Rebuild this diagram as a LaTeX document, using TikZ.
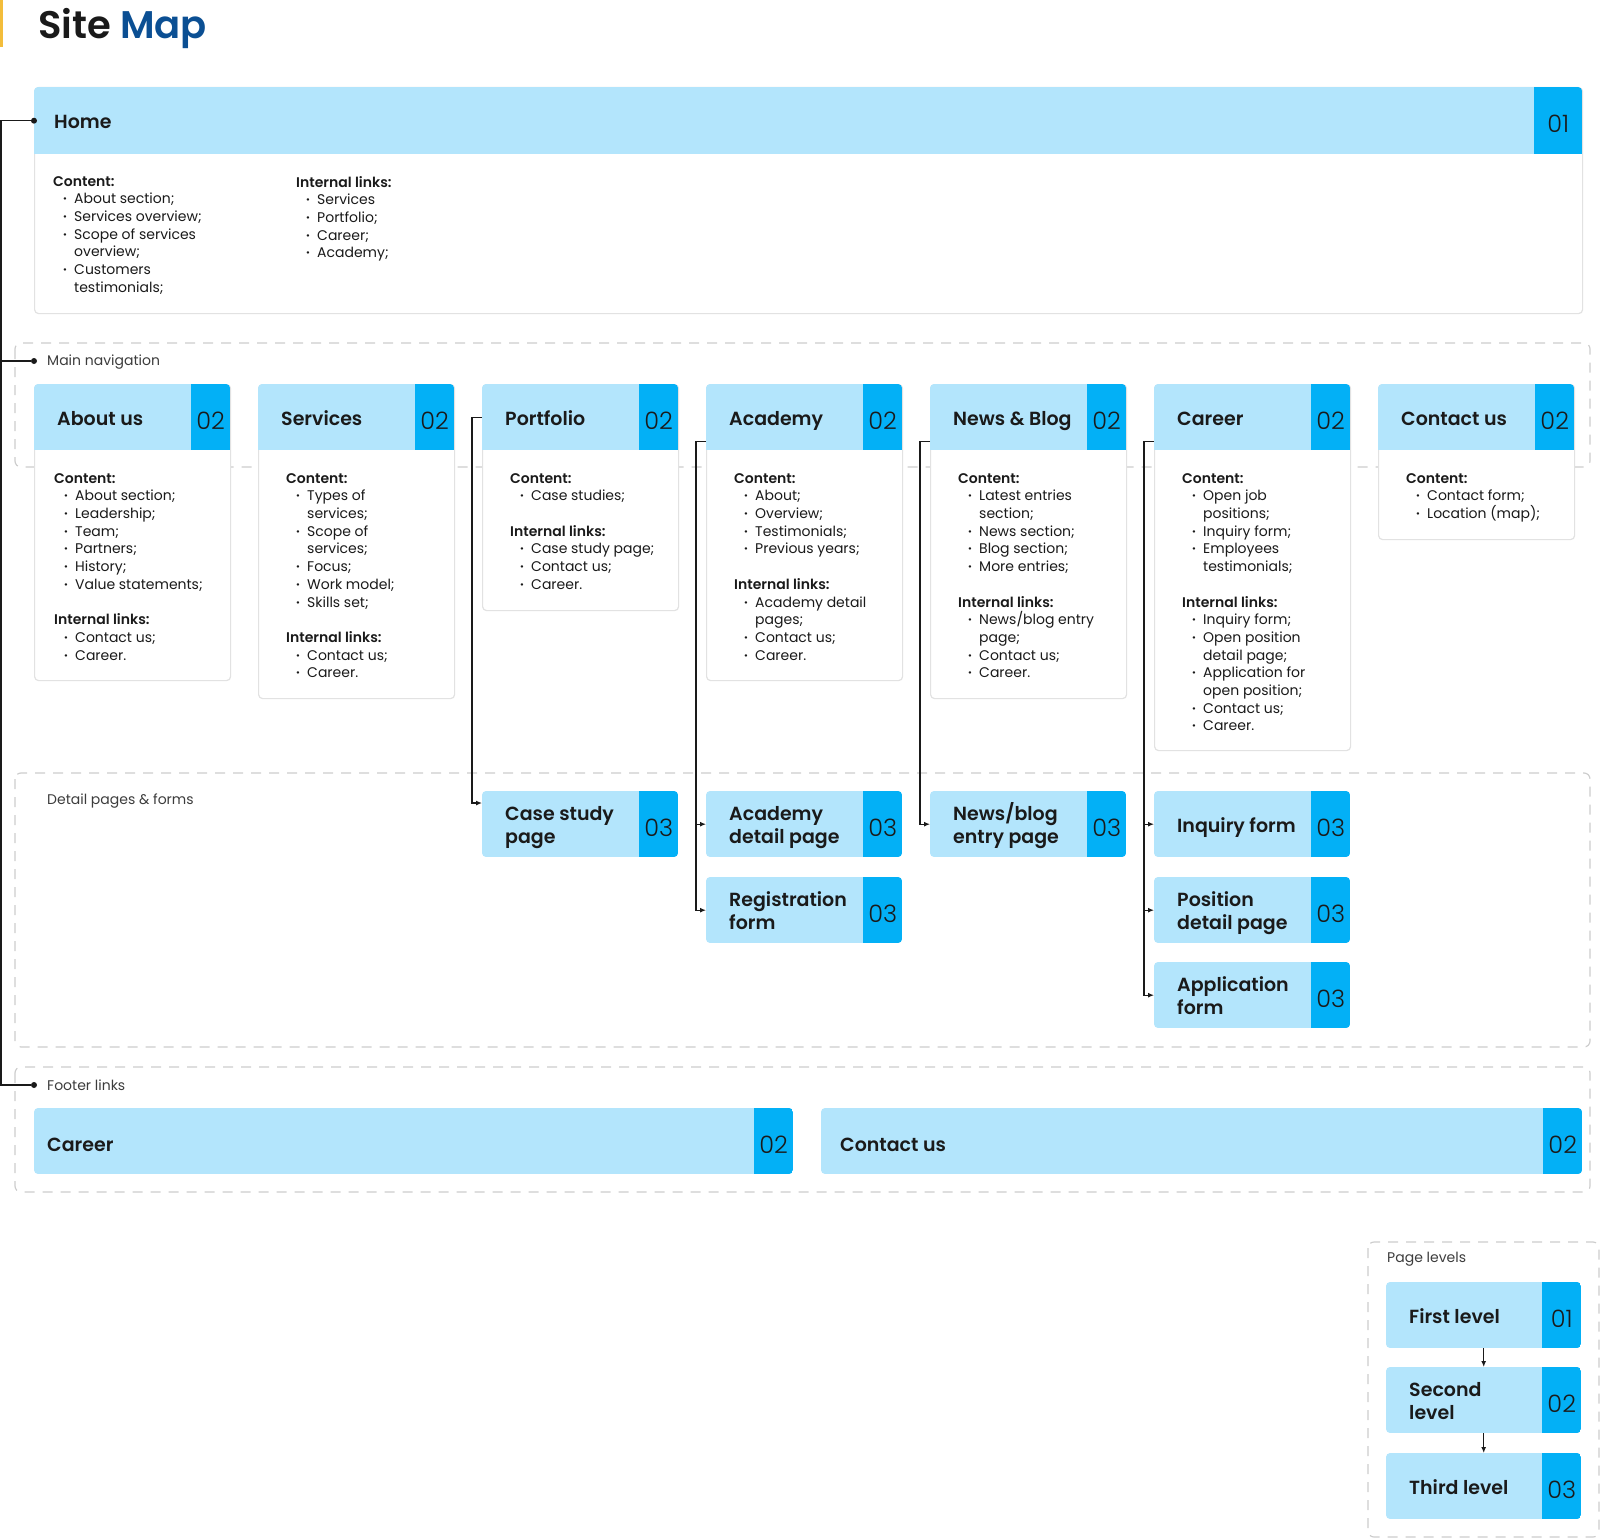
\documentclass[tikz,border=0pt]{standalone}
\usepackage{fontspec}
\setmainfont{Poppins}[BoldFont={* SemiBold}]
\newfontfamily\numfont{Poppins Light}
\usetikzlibrary{arrows.meta,positioning}
\tikzset{>={Latex[length=6pt,width=5pt]}}

\definecolor{paleblue}{HTML}{B3E5FC}
\definecolor{numblue}{HTML}{03B0F6}
\definecolor{mapblue}{HTML}{0B4F93}
\definecolor{tagyellow}{HTML}{F3BD3B}
\definecolor{cardgrey}{HTML}{E2E2E2}
\definecolor{dashgrey}{HTML}{CDCDCD}
\definecolor{ink}{HTML}{1A1A1A}

\tikzset{
  headbox/.style={fill=paleblue, minimum height=66pt, inner sep=0pt, anchor=north west},
  numbox/.style={fill=numblue, minimum height=66pt, minimum width=39pt, inner sep=0pt,
    anchor=north east, font=\numfont\fontsize{24}{24}\selectfont, text=ink},
  headlabel/.style={anchor=base west, align=left, inner sep=0pt, text=ink,
    font=\bfseries\fontsize{19}{23.5}\selectfont},
  cardbody/.style={draw=cardgrey, line width=1.2pt, fill=white, rounded corners=4pt,
    anchor=north west, inner sep=0pt},
  bodytext/.style={anchor=north west, align=left, inner sep=0pt, text=ink,
    font=\fontsize{14}{17.7}\selectfont},
  section/.style={draw=dashgrey, line width=1.2pt, dash pattern=on 10pt off 8pt,
    rounded corners=6pt},
  sectionlabel/.style={anchor=west, inner sep=0pt, text=ink!85,
    font=\fontsize{14}{17}\selectfont},
  dot/.style={circle, fill=ink, inner sep=0pt, minimum size=6pt},
  trunk/.style={draw=ink, line width=1.3pt},
  link/.style={draw=ink, line width=1.2pt},
}

% list helpers
\newcommand{\itm}[1]{\hspace*{10pt}\makebox[11pt][l]{\bfseries ·}#1}
\newcommand{\cnt}[1]{\hspace*{21pt}#1}
\newcommand{\hd}[1]{{\bfseries #1}}
\newcommand{\num}[1]{\raisebox{-12pt}[0pt][0pt]{#1}}

% level 2 card: [text offset], name, left x, bottom y, title, body
\newcommand{\navcard}[6][28]{%
  \node[cardbody, minimum width=196pt, minimum height={#4pt-384pt}] (#2-b) at (#3,384) {};
  \begin{scope}
    \clip[rounded corners=4pt] (#3,384) rectangle ++(196,76);
    \node[headbox, minimum width=196pt] (#2) at (#3,384) {};
    \node[numbox] (#2-n) at (#2.north east) {\num{02}};
  \end{scope}
  \node[headlabel] (#2-l) at ([xshift=23pt,yshift=-8pt]#2.west) {#5};
  \node[bodytext] (#2-t) at (#3+#1,473) {#6};
}

% plain page box: [label offset], name, x, y, width, number, baseline shift, label
\newcommand{\pagebox}[8][23]{%
  \begin{scope}
    \clip[rounded corners=4pt] (#3,#4) rectangle ++(#5,66);
    \node[headbox, minimum width=#5pt] (#2) at (#3,#4) {};
    \node[numbox] (#2-n) at (#2.north east) {\num{#6}};
  \end{scope}
  \node[headlabel] (#2-l) at ([xshift=#1pt,yshift=#7pt]#2.west) {#8};
}

\begin{document}
\begin{tikzpicture}[x=1pt, y=-1pt]
\useasboundingbox (0,0) rectangle (1600,1538);

% title
\fill[tagyellow] (0,0) rectangle (3,47);
\node[anchor=base west, inner sep=0pt, text=ink, font=\bfseries\fontsize{38.5}{40}\selectfont]
  (title) at (38,39) {Site \textcolor{mapblue}{Map}};

% sections
\draw[section] (15,343) rectangle (1590,467);
\draw[section] (15,773) rectangle (1590,1047);
\draw[section] (15,1067) rectangle (1590,1192);
\draw[section] (1368,1242) rectangle (1599,1537);
\node[sectionlabel] (navlabel) at (47,362) {Main navigation};
\node[sectionlabel] (detlabel) at (47,801) {Detail pages \& forms};
\node[sectionlabel] (footlabel) at (47,1085) {Footer links};
\node[sectionlabel] (lvllabel) at (1387,1259) {Page levels};

% home
\node[cardbody, minimum width=1548pt, minimum height=226pt] (home-b) at (34,87) {};
\begin{scope}
  \clip[rounded corners=4pt] (34,87) rectangle ++(1548,77);
  \node[headbox, minimum width=1548pt, minimum height=67pt] (home) at (34,87) {};
  \node[numbox, minimum width=48pt, minimum height=67pt] (home-n) at (home.north east) {\num{01}};
\end{scope}
\node[headlabel] (home-l) at ([xshift=20pt,yshift=-8pt]home.west) {Home};
\node[bodytext] (home-t1) at (53,176) {\hd{Content:}\\
  \itm{About section;}\\
  \itm{Services overview;}\\
  \itm{Scope of services}\\
  \cnt{overview;}\\
  \itm{Customers}\\
  \cnt{testimonials;}};
\node[bodytext] (home-t2) at (296,176) {\hd{Internal links:}\\
  \itm{Services}\\
  \itm{Portfolio;}\\
  \itm{Career;}\\
  \itm{Academy;}};

% level 2
\navcard[20]{about}{34}{680}{About us}{\hd{Content:}\\
  \itm{About section;}\\ \itm{Leadership;}\\ \itm{Team;}\\ \itm{Partners;}\\
  \itm{History;}\\ \itm{Value statements;}\\[17.7pt]
  \hd{Internal links:}\\ \itm{Contact us;}\\ \itm{Career.}}
\navcard{services}{258}{698}{Services}{\hd{Content:}\\
  \itm{Types of}\\ \cnt{services;}\\ \itm{Scope of}\\ \cnt{services;}\\
  \itm{Focus;}\\ \itm{Work model;}\\ \itm{Skills set;}\\[17.7pt]
  \hd{Internal links:}\\ \itm{Contact us;}\\ \itm{Career.}}
\navcard{portfolio}{482}{610}{Portfolio}{\hd{Content:}\\
  \itm{Case studies;}\\[17.7pt]
  \hd{Internal links:}\\ \itm{Case study page;}\\ \itm{Contact us;}\\ \itm{Career.}}
\navcard{academy}{706}{680}{Academy}{\hd{Content:}\\
  \itm{About;}\\ \itm{Overview;}\\ \itm{Testimonials;}\\ \itm{Previous years;}\\[17.7pt]
  \hd{Internal links:}\\ \itm{Academy detail}\\ \cnt{pages;}\\ \itm{Contact us;}\\ \itm{Career.}}
\navcard{news}{930}{698}{News \& Blog}{\hd{Content:}\\
  \itm{Latest entries}\\ \cnt{section;}\\ \itm{News section;}\\ \itm{Blog section;}\\
  \itm{More entries;}\\[17.7pt]
  \hd{Internal links:}\\ \itm{News/blog entry}\\ \cnt{page;}\\ \itm{Contact us;}\\ \itm{Career.}}
\navcard{career}{1154}{750}{Career}{\hd{Content:}\\
  \itm{Open job}\\ \cnt{positions;}\\ \itm{Inquiry form;}\\ \itm{Employees}\\
  \cnt{testimonials;}\\[17.7pt]
  \hd{Internal links:}\\ \itm{Inquiry form;}\\ \itm{Open position}\\ \cnt{detail page;}\\
  \itm{Application for}\\ \cnt{open position;}\\ \itm{Contact us;}\\ \itm{Career.}}
\navcard{contact}{1378}{539}{Contact us}{\hd{Content:}\\
  \itm{Contact form;}\\ \itm{Location (map);}}

% level 3
\pagebox{case}{482}{791}{196}{03}{-19.5}{Case study\\page}
\pagebox{acdetail}{706}{791}{196}{03}{-19.5}{Academy\\detail page}
\pagebox{regform}{706}{877}{196}{03}{-19.5}{Registration\\form}
\pagebox{newsentry}{930}{791}{196}{03}{-19.5}{News/blog\\entry page}
\pagebox{inquiry}{1154}{791}{196}{03}{-8}{Inquiry form}
\pagebox{position}{1154}{877}{196}{03}{-19.5}{Position\\detail page}
\pagebox{appform}{1154}{962}{196}{03}{-19.5}{Application\\form}

% footer
\pagebox[13]{footcareer}{34}{1108}{759}{02}{-10}{Career}
\pagebox[19]{footcontact}{821}{1108}{761}{02}{-10}{Contact us}

% legend
\pagebox{first}{1386}{1282}{195}{01}{-8}{First level}
\pagebox{second}{1386}{1367}{195}{02}{-19.5}{Second\\level}
\pagebox{third}{1386}{1453}{195}{03}{-8}{Third level}
\draw[link,->] (first.south) -- (second.north);
\draw[link,->] (second.south) -- (third.north);

% trunk
\coordinate (trunkx) at (1,0);
\node[dot] (homedot) at (home.west) {};
\node[dot] (navdot) at (34,361) {};
\node[dot] (footdot) at (34,1085) {};
\draw[trunk] (homedot) -- (homedot -| trunkx) |- (footdot);
\draw[trunk] (navdot -| trunkx) -- (navdot);

% branches to level 3
\draw[link,->] (portfolio.west) -- ++(-10,0) |- ([yshift=-12pt]case.north west);
\draw[link,->] ([yshift=9pt]academy.south west) -- ++(-10,0) |- (regform.west);
\draw[link,->] ([xshift=-10pt]acdetail.west) -- (acdetail.west);
\draw[link,->] ([yshift=9pt]news.south west) -- ++(-10,0) |- (newsentry.west);
\draw[link,->] ([yshift=9pt]career.south west) -- ++(-10,0) |- (appform.west);
\draw[link,->] ([xshift=-10pt]inquiry.west) -- (inquiry.west);
\draw[link,->] ([xshift=-10pt]position.west) -- (position.west);
\end{tikzpicture}
\end{document}
